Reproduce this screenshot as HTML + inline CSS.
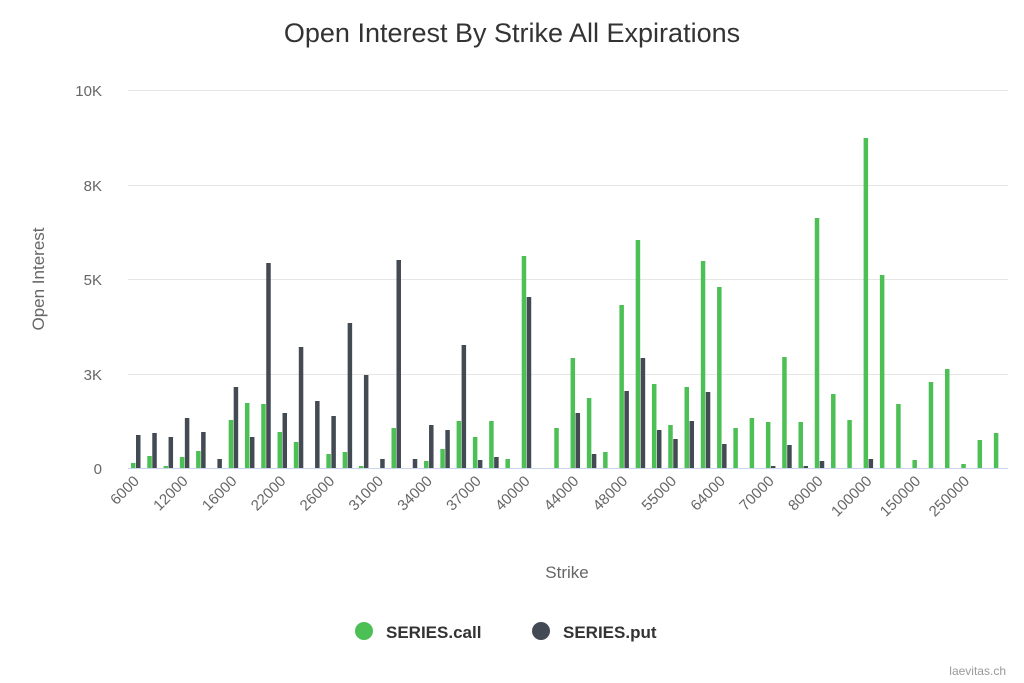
<!DOCTYPE html>
<html><head><meta charset="utf-8"><style>
body{margin:0;background:#fff;}
svg{display:block;font-family:"Liberation Sans",sans-serif;}
</style></head><body>
<svg id="s" width="1024" height="683" xmlns="http://www.w3.org/2000/svg">
<text x="512" y="42" text-anchor="middle" font-size="27" fill="#333">Open Interest By Strike All Expirations</text>
<g stroke="#e6e6e6" stroke-width="1">
<line x1="128" x2="1008" y1="90.5" y2="90.5"/>
<line x1="128" x2="1008" y1="185.5" y2="185.5"/>
<line x1="128" x2="1008" y1="279.5" y2="279.5"/>
<line x1="128" x2="1008" y1="374.5" y2="374.5"/>
</g>
<line x1="128" x2="1008" y1="468.5" y2="468.5" stroke="#ccd6eb"/>
<g font-size="15" fill="#666" text-anchor="end">
<text x="102" y="96">10K</text>
<text x="102" y="191">8K</text>
<text x="102" y="285">5K</text>
<text x="102" y="380">3K</text>
<text x="102" y="474">0</text>
</g>
<text transform="translate(44,279) rotate(-90)" text-anchor="middle" font-size="17" fill="#666">Open Interest</text>
<text x="567" y="578" text-anchor="middle" font-size="17" fill="#666">Strike</text>
<g id="bars"></g>
<g id="xl" font-size="15" fill="#666" text-anchor="end"></g>
<circle cx="364" cy="631" r="9" fill="#4cbf55"/>
<text x="386" y="638" font-size="17" font-weight="bold" fill="#333">SERIES.call</text>
<circle cx="541" cy="631" r="9" fill="#434a54"/>
<text x="563" y="638" font-size="17" font-weight="bold" fill="#333">SERIES.put</text>
<text x="1006" y="675" text-anchor="end" font-size="12" fill="#999">laevitas.ch</text>
</svg>
<script>
var d=[[463,435],[456,433],[466,437],[457,418],[451,432],[0,459],[420,387],[403,437],[404,263],[432,413],
[442,347],[0,401],[454,416],[452,323],[466,375],[0,459],[428,260],[0,459],[461,425],[449,430],
[421,345],[437,460],[421,457],[459,0],[256,297],[0,0],[428,0],[358,413],[398,454],[452,0],
[305,391],[240,358],[384,430],[425,439],[387,421],[261,392],[287,444],[428,0],[418,0],[422,466],
[357,445],[422,466],[218,461],[394,0],[420,0],[138,459],[275,0],[404,0],[460,0],[382,0],
[369,0],[464,0],[440,0],[433,0]];
var labs=["6000","12000","16000","22000","26000","31000","34000","37000","40000","44000","48000","55000","64000","70000","80000","100000","150000","250000"];
var b='',l='';
for(var i=0;i<d.length;i++){var c=133+16.28*i;
if(d[i][0])b+='<rect x="'+(c-2)+'" y="'+d[i][0]+'" width="4.5" height="'+(468-d[i][0])+'" fill="#4cbf55"/>';
if(d[i][1])b+='<rect x="'+(c+3)+'" y="'+d[i][1]+'" width="4.5" height="'+(468-d[i][1])+'" fill="#434a54"/>';
if(i%3==0){var x=c+7,y=482;l+='<text transform="translate('+x+','+y+') rotate(-45)">'+labs[i/3]+'</text>';}}
document.getElementById('bars').innerHTML=b;document.getElementById('xl').innerHTML=l;
</script>
</body></html>
